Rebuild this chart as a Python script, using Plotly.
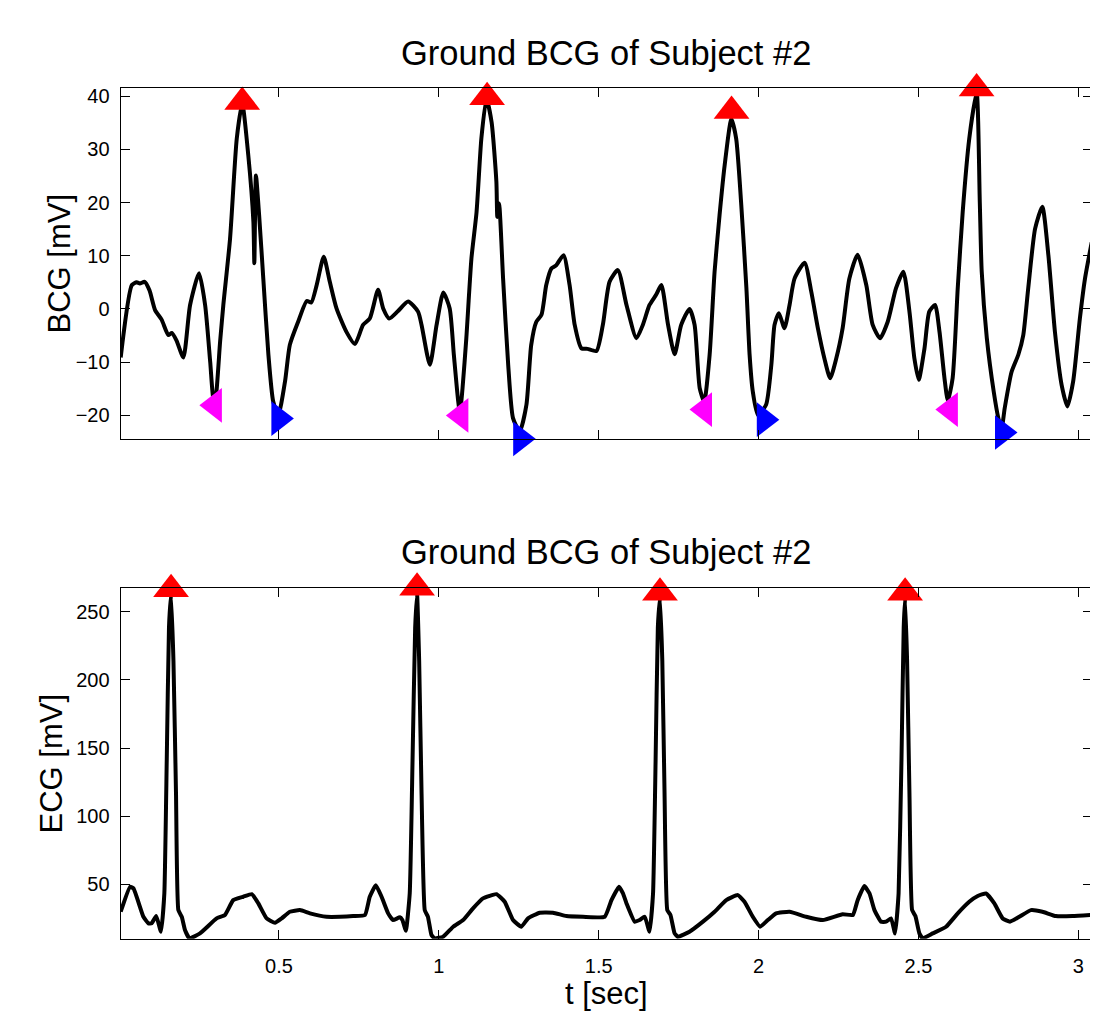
import plotly.graph_objects as go

# ---------------- data ----------------
bcg_t = [0.005, 0.040, 0.055, 0.065, 0.080, 0.095, 0.1125, 0.133, 0.154, 0.165, 0.180, 0.201,
         0.222, 0.250, 0.269, 0.285, 0.295, 0.300, 0.316, 0.326, 0.347, 0.368, 0.385, 0.404,
         0.420, 0.423, 0.428, 0.438, 0.451, 0.467, 0.482, 0.498, 0.519, 0.534, 0.560, 0.587,
         0.601, 0.618, 0.640, 0.659, 0.680, 0.711, 0.7375, 0.763, 0.784, 0.810, 0.826, 0.845,
         0.8725, 0.904, 0.935, 0.946, 0.972, 0.993, 1.014, 1.034, 1.047, 1.060, 1.066, 1.074,
         1.086, 1.102, 1.118, 1.133, 1.149, 1.165, 1.180, 1.183, 1.1885, 1.201, 1.217, 1.232,
         1.253, 1.274, 1.289, 1.305, 1.321, 1.336, 1.352, 1.367, 1.390, 1.409, 1.425, 1.446,
         1.465, 1.493, 1.513, 1.534, 1.560, 1.587, 1.618, 1.638, 1.659, 1.680, 1.696, 1.717,
         1.7375, 1.758, 1.784, 1.800, 1.816, 1.830, 1.847, 1.8625, 1.878, 1.894, 1.915, 1.930,
         1.946, 1.962, 1.972, 1.982, 1.998, 2.0235, 2.040, 2.050, 2.0635, 2.081, 2.097, 2.1125,
         2.144, 2.165, 2.1855, 2.206, 2.224, 2.243, 2.263, 2.284, 2.310, 2.337, 2.357, 2.380,
         2.404, 2.430, 2.453, 2.472, 2.4875, 2.501, 2.519, 2.534, 2.552, 2.566, 2.5815, 2.592,
         2.607, 2.623, 2.6385, 2.659, 2.682, 2.692, 2.698, 2.714, 2.7355, 2.750, 2.760, 2.770,
         2.7915, 2.8125, 2.828, 2.8435, 2.865, 2.8875, 2.9065, 2.927, 2.948, 2.966, 2.984,
         3.005, 3.021, 3.042]
bcg_v = [-9.1, 4.5, 5.0, 4.8, 5.1, 3.5, -0.2, -2.0, -4.9, -4.5, -6.0, -9.1,
         0.75, 6.7, 0.75, -10.0, -17.0, -17.5, -6.1, 0.75, 13.2, 32.0, 38.6, 28.9,
         16.4, 8.6, 25.1, 17.6, 5.7, -8.6, -17.4, -19.9, -13.6, -6.75, -2.4, 1.5,
         1.2, 4.5, 9.8, 5.1, 0.1, -4.3, -6.6, -3.0, -1.8, 3.6, 0.1, -1.8,
         -0.4, 1.4, -0.5, -3.0, -10.5, -3.0, 3.1, 0.1, -8.6, -17.0, -19.5, -15.0,
         -5.5, 9.5, 18.2, 32.0, 39.5, 35.1, 23.9, 17.3, 19.8, 5.7, -10.5, -20.5,
         -23.0, -18.0, -6.75, -2.4, -1.1, 4.5, 7.6, 8.2, 10.1, 4.5, -3.0, -7.4,
         -7.5, -7.9, -3.0, 5.1, 7.3, 0.75, -5.5, -3.0, 0.75, 2.7, 4.5, -3.0,
         -8.5, -3.0, 0.0, -3.0, -14.9, -17.4, -8.6, 7.0, 17.6, 27.0, 35.7, 32.0,
         19.5, 3.9, -8.6, -15.5, -19.9, -18.0, -10.5, -3.0, -0.8, -3.6, 0.75, 5.7,
         8.7, 3.2, -3.6, -9.3, -13.0, -9.3, -3.6, 5.7, 10.2, 4.5, -3.0, -5.5,
         -2.4, 3.9, 7.0, -0.5, -9.3, -13.3, -7.4, -0.5, 0.75, -4.3, -13.0, -17.2,
         -13.0, 3.9, 18.2, 32.0, 40.7, 20.0, 7.0, -5.5, -15.5, -20.5, -22.5, -18.6,
         -11.8, -8.6, -4.9, 3.9, 15.1, 19.2, 10.1, -4.3, -14.3, -18.3, -13.6,
         -1.8, 5.7, 12.5]

bcg_peak_t = [0.385, 1.151, 1.9156, 2.682]
bcg_peak_v = [38.9, 39.8, 37.2, 41.4]
bcg_onset_t = [0.298, 1.069, 1.831, 2.600]
bcg_onset_v = [-18.1, -20.0, -18.9, -18.9]
bcg_trough_t = [0.4997, 1.256, 2.018, 2.763]
bcg_trough_v = [-20.6, -24.4, -20.8, -23.2]

ecg_t = [0.005, 0.0344, 0.045, 0.076, 0.0916, 0.102, 0.116, 0.131, 0.1415, 0.149, 0.156, 0.1625,
         0.170, 0.178, 0.1853, 0.196, 0.206, 0.220, 0.253, 0.305, 0.331, 0.357, 0.3885, 0.415,
         0.4355, 0.4615, 0.4875, 0.5085, 0.534, 0.5656, 0.597, 0.649, 0.691, 0.732, 0.769, 0.784,
         0.803, 0.821, 0.8415, 0.857, 0.878, 0.886, 0.897, 0.909, 0.9178, 0.926, 0.932, 0.9385,
         0.946, 0.956, 0.966, 0.977, 0.987, 1.0135, 1.045, 1.076, 1.107, 1.138, 1.180, 1.206,
         1.232, 1.258, 1.279, 1.3156, 1.357, 1.399, 1.451, 1.519, 1.540, 1.5635, 1.576, 1.587,
         1.6125, 1.628, 1.644, 1.659, 1.670, 1.678, 1.685, 1.6917, 1.699, 1.706, 1.7146, 1.7245,
         1.7375, 1.748, 1.784, 1.826, 1.8625, 1.899, 1.935, 1.956, 1.982, 2.005, 2.029, 2.055,
         2.097, 2.149, 2.201, 2.263, 2.295, 2.310, 2.331, 2.347, 2.3625, 2.383, 2.399, 2.4145,
         2.427, 2.438, 2.447, 2.454, 2.4584, 2.4646, 2.472, 2.4803, 2.4906, 2.503, 2.5135, 2.5448,
         2.5865, 2.623, 2.659, 2.6855, 2.7115, 2.7375, 2.7635, 2.7865, 2.8156, 2.852, 2.888, 2.930,
         2.982, 3.042]
ecg_v = [29.9, 48.2, 47.0, 26.2, 21.4, 21.5, 26.7, 15.2, 43.3, 140.9, 238.5, 263.0,
         214.0, 116.6, 31.1, 26.2, 16.5, 10.4, 14.0, 25.0, 27.5, 38.4, 40.9, 42.8,
         36.0, 25.0, 21.8, 25.0, 29.9, 31.1, 28.7, 26.2, 26.2, 26.7, 27.5, 40.9,
         49.4, 40.9, 28.7, 23.8, 25.8, 23.8, 16.0, 43.3, 140.9, 238.5, 263.0, 214.0,
         116.6, 31.1, 26.2, 12.8, 10.4, 11.6, 18.9, 23.8, 32.4, 39.7, 42.8, 37.2,
         23.8, 18.9, 25.0, 29.2, 29.2, 26.7, 26.2, 26.2, 38.4, 48.2, 43.3, 36.0,
         22.6, 23.8, 26.2, 15.2, 43.3, 140.9, 238.5, 260.5, 214.0, 116.6, 31.1, 27.5,
         14.0, 11.6, 15.2, 22.6, 29.9, 38.4, 42.1, 37.2, 26.2, 18.9, 23.8, 28.7,
         29.9, 26.2, 23.8, 28.1, 27.5, 38.4, 48.7, 43.3, 31.1, 22.6, 22.6, 25.0,
         14.0, 43.3, 140.9, 238.5, 260.5, 214.0, 116.6, 31.1, 26.7, 14.0, 10.4, 14.0,
         18.9, 28.7, 37.2, 41.4, 43.3, 36.0, 25.0, 22.6, 26.2, 31.1, 29.9, 26.7,
         26.7, 27.5]

ecg_peak_t = [0.1625, 0.932, 1.6917, 2.4584]
ecg_peak_v = [266.6, 267.6, 263.9, 263.9]

title_text = "Ground BCG of Subject #2"
x_tickvals = [0.5, 1, 1.5, 2, 2.5, 3]
x_ticktext = ["0.5", "1", "1.5", "2", "2.5", "3"]
bcg_tickvals = [-20, -10, 0, 10, 20, 30, 40]
ecg_tickvals = [50, 100, 150, 200, 250]

# ---------------- figure ----------------
# the page body has the browser's default 8px margin, so the figure is drawn
# 8px smaller and all pixel positions are shifted by that offset
OFF = 8
W, H = 1098 - OFF, 1014 - OFF
FONT = "Liberation Sans, Arial, Helvetica, sans-serif"


def px_x(p):
    return (p - OFF) / W


def px_y(p):
    return 1 - (p - OFF) / H


fig = go.Figure()

fig.add_trace(go.Scatter(x=bcg_t, y=bcg_v, mode="lines",
                         line=dict(color="black", width=4, shape="spline", smoothing=0.6),
                         xaxis="x", yaxis="y", hoverinfo="skip"))
fig.add_trace(go.Scatter(x=bcg_peak_t, y=bcg_peak_v, mode="markers", cliponaxis=False,
                         marker=dict(symbol="triangle-up", size=31, color="#ff0000"),
                         xaxis="x", yaxis="y"))
fig.add_trace(go.Scatter(x=bcg_onset_t, y=bcg_onset_v, mode="markers", cliponaxis=False,
                         marker=dict(symbol="triangle-left", size=30, color="#ff00ff"),
                         xaxis="x", yaxis="y"))
fig.add_trace(go.Scatter(x=bcg_trough_t, y=bcg_trough_v, mode="markers", cliponaxis=False,
                         marker=dict(symbol="triangle-right", size=30, color="#0000ff"),
                         xaxis="x", yaxis="y"))

fig.add_trace(go.Scatter(x=ecg_t, y=ecg_v, mode="lines",
                         line=dict(color="black", width=4, shape="spline", smoothing=0.4),
                         xaxis="x2", yaxis="y2", hoverinfo="skip"))
fig.add_trace(go.Scatter(x=ecg_peak_t, y=ecg_peak_v, mode="markers", cliponaxis=False,
                         marker=dict(symbol="triangle-up", size=31, color="#ff0000"),
                         xaxis="x2", yaxis="y2"))

xdom = [px_x(120.7), px_x(1091.7)]
top_dom = [px_y(437.7), px_y(85.7)]
bot_dom = [px_y(938.7), px_y(586.7)]

axis_common = dict(showline=True, linecolor="black", linewidth=1.2, mirror="ticks",
                   ticks="inside", ticklen=9, tickwidth=1, tickcolor="black",
                   showgrid=False, zeroline=False,
                   tickfont=dict(family=FONT, size=20, color="black"))

fig.update_layout(
    width=W, height=H,
    margin=dict(l=0, r=0, t=0, b=0),
    paper_bgcolor="white", plot_bgcolor="white",
    showlegend=False,
    font=dict(family=FONT, color="black"),
    xaxis=dict(domain=xdom, range=[0.005, 3.042], tickvals=x_tickvals, showticklabels=False,
               anchor="y", **axis_common),
    yaxis=dict(domain=top_dom, range=[-24.4, 41.6], tickvals=bcg_tickvals,
               anchor="x", ticklabelstandoff=6, **axis_common),
    xaxis2=dict(domain=xdom, range=[0.005, 3.042], tickvals=x_tickvals, ticktext=x_ticktext,
                anchor="y2", ticklabelstandoff=9, **axis_common),
    yaxis2=dict(domain=bot_dom, range=[10, 267.8], tickvals=ecg_tickvals,
                anchor="x2", ticklabelstandoff=6, **axis_common),
)

ann_font_title = dict(family=FONT, size=34.5, color="black")
ann_font_label = dict(family=FONT, size=31, color="black")
xc = px_x((120.7 + 1091.7) / 2)
annotations = [
    dict(text=title_text, x=xc, y=px_y(51), xref="paper", yref="paper",
         showarrow=False, font=ann_font_title, xanchor="center", yanchor="middle"),
    dict(text=title_text, x=xc, y=px_y(551), xref="paper", yref="paper",
         showarrow=False, font=ann_font_title, xanchor="center", yanchor="middle"),
    dict(text="BCG [mV]", x=px_x(59), y=px_y(262), xref="paper", yref="paper",
         showarrow=False, font=ann_font_label, textangle=-90, xanchor="center", yanchor="middle"),
    dict(text="ECG [mV]", x=px_x(51), y=px_y(763), xref="paper", yref="paper",
         showarrow=False, font=ann_font_label, textangle=-90, xanchor="center", yanchor="middle"),
    dict(text="t [sec]", x=xc, y=px_y(993), xref="paper", yref="paper",
         showarrow=False, font=ann_font_label, xanchor="center", yanchor="middle"),
]
fig.update_layout(annotations=annotations)

fig.write_html("out.html")
